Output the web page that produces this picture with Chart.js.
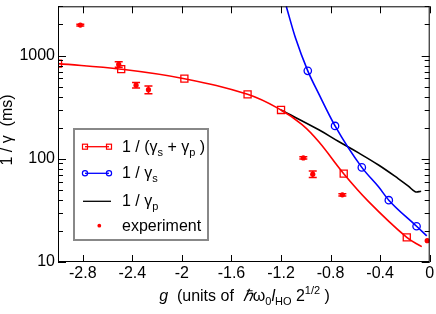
<!DOCTYPE html>
<html>
<head>
<meta charset="utf-8">
<script src="https://cdn.jsdelivr.net/npm/chart.js@4.4.1/dist/chart.umd.min.js"></script>
<style>
  body { margin: 0; background: #fff; }
  #wrap { position: relative; width: 436px; height: 314px; font-family: "Liberation Sans", Arial, sans-serif; color: #000; }
  #chart { position: absolute; left: 0; top: 0; }
  .txt { position: absolute; font-size: 16px; line-height: 20px; white-space: nowrap; }
  .sub { font-size: 11px; position: relative; top: 4px; }
  .sup { font-size: 11px; position: relative; top: -7px; }
  #ytitle { position: absolute; left: 7px; top: 130px; width: 120px; text-align: center; font-size: 16px; line-height: 16px;
            transform: translate(-50%, -50%) rotate(-90deg); white-space: nowrap; }
  #xtitle { position: absolute; left: 0; top: 286px; width: 489px; text-align: center; font-size: 16px; line-height: 20px; white-space: nowrap; }
  #legend { position: absolute; left: 73px; top: 128px; width: 136px; height: 113px; box-sizing: border-box; border: 2px solid #888; }
  #legsvg { position: absolute; left: 0; top: 0; }
</style>
</head>
<body>
<div id="wrap">
  <canvas id="chart" width="436" height="314"></canvas>
  <div id="ytitle">1 / γ &nbsp;(ms)</div>
  <div id="xtitle"><i>g</i>&nbsp; (units of &nbsp;<i>ℏ</i>ω<span class="sub">0</span><i>l</i><span class="sub">HO</span> 2<span class="sup">1/2</span> )</div>
  <div id="legend"></div>
  <svg id="legsvg" width="436" height="314">
    <line x1="85" y1="146.7" x2="109" y2="146.7" stroke="#f00" stroke-width="1.3"/>
    <rect x="82.5" y="144.2" width="5" height="5" fill="none" stroke="#f00" stroke-width="1.2"/>
    <rect x="106.5" y="144.2" width="5" height="5" fill="none" stroke="#f00" stroke-width="1.2"/>
    <line x1="85" y1="173.3" x2="109" y2="173.3" stroke="#00f" stroke-width="1.3"/>
    <circle cx="85" cy="173.3" r="2.6" fill="none" stroke="#00f" stroke-width="1.2"/>
    <circle cx="109" cy="173.3" r="2.6" fill="none" stroke="#00f" stroke-width="1.2"/>
    <line x1="83" y1="201.3" x2="111" y2="201.3" stroke="#000" stroke-width="1.3"/>
    <circle cx="99.3" cy="225.7" r="1.9" fill="#f00"/>
  </svg>
  <div class="txt" style="left:122px; top:137px;">1 / (γ<span class="sub">s</span> + γ<span class="sub">p</span> )</div>
  <div class="txt" style="left:122px; top:163px;">1 / γ<span class="sub">s</span></div>
  <div class="txt" style="left:122px; top:191px;">1 / γ<span class="sub">p</span></div>
  <div class="txt" style="left:122px; top:216px;">experiment</div>
</div>
<script>
// axis ticks
const xTicks = [-2.8, -2.4, -2, -1.6, -1.2, -0.8, -0.4, 0];
const yTicks = [10, 100, 1000];
const yMinor = [20, 30, 40, 50, 60, 70, 80, 90, 200, 300, 400, 500, 600, 700, 800, 900, 2000, 3000];

// 1/(gs+gp) : markers and curve
const sumG = [-3.0, -2.49, -1.98, -1.47, -1.2, -0.694, -0.185];
const sumVal = [835, 738, 597, 421, 297, 71.7, 17.3];
const sumCurveG = [-3.0, -2.49, -1.98, -1.47, -1.2, -1.03, -0.895, -0.694, -0.493, -0.185, -0.064];
const sumCurveVal = [835, 738, 597, 421, 297, 214, 146, 71.7, 38.5, 17.3, 14.1];

// 1/gs : markers and curve
const sG = [-0.984, -0.764, -0.548, -0.33, -0.106];
const sVal = [711, 208, 82.5, 39.7, 22.2];
const sCurveG = [-1.158, -1.083, -0.984, -0.896, -0.764, -0.548, -0.413, -0.33, -0.106, -0.024];
const sCurveVal = [3000, 1476, 711, 427, 208, 82.5, 53.5, 39.7, 22.2, 17.9];

// 1/gp : curve only
const pCurveG = [-1.2, -0.895, -0.735, -0.574, -0.413, -0.252, -0.172, -0.117, -0.069];
const pCurveVal = [297, 191, 147, 114, 87, 64, 54.3, 48, 48.5];

// experiment with error bars
const expG = [-2.82, -2.51, -2.37, -2.27, -1.02, -0.944, -0.705, -0.02];
const expV = [1973, 820, 517, 467, 102, 71, 44.7, 16.1];
const expErr = [40, 50, 32, 40, 2.5, 5, 1.2, 0];

const pts = (xs, ys) => xs.map((x, i) => ({ x: x, y: ys[i] }));

// frame, inside ticks and error bars
const framePlugin = {
    id: 'frame',
    afterDatasetsDraw(chart) {
        const ctx = chart.ctx, xs = chart.scales.x, ys = chart.scales.y;
        ctx.save();
        ctx.strokeStyle = '#f00';
        ctx.lineWidth = 1.5;
        expG.forEach((g, i) => {
            if (!expErr[i]) return;
            const px = xs.getPixelForValue(g);
            const y1 = ys.getPixelForValue(expV[i] - expErr[i]);
            const y2 = ys.getPixelForValue(expV[i] + expErr[i]);
            ctx.beginPath();
            ctx.moveTo(px, y1); ctx.lineTo(px, y2);
            ctx.moveTo(px - 4, y1); ctx.lineTo(px + 4, y1);
            ctx.moveTo(px - 4, y2); ctx.lineTo(px + 4, y2);
            ctx.stroke();
        });
        ctx.restore();
    },
    afterDraw(chart) {
        const ctx = chart.ctx, a = chart.chartArea, xs = chart.scales.x, ys = chart.scales.y;
        ctx.save();
        ctx.strokeStyle = '#000';
        ctx.lineWidth = 1;
        ctx.strokeRect(a.left + 0.5, a.top + 0.5, a.right - a.left - 1, a.bottom - a.top - 1);
        ctx.beginPath();
        xTicks.forEach(v => {
            const px = Math.round(xs.getPixelForValue(v)) + 0.5;
            ctx.moveTo(px, a.bottom); ctx.lineTo(px, a.bottom - 7);
            ctx.moveTo(px, a.top); ctx.lineTo(px, a.top + 7);
        });
        const yt = (v, len) => {
            const py = Math.round(ys.getPixelForValue(v)) + 0.5;
            ctx.moveTo(a.left, py); ctx.lineTo(a.left + len, py);
            ctx.moveTo(a.right, py); ctx.lineTo(a.right - len, py);
        };
        yTicks.forEach(v => yt(v, 8));
        yMinor.forEach(v => yt(v, 5));
        ctx.stroke();
        ctx.restore();
    }
};

const noPad = s => { s.paddingTop = 0; s.paddingBottom = 0; s.paddingLeft = 0; s.paddingRight = 0; };

new Chart(document.getElementById('chart'), {
    type: 'scatter',
    data: {
        datasets: [{
            data: pts(expG, expV),
            pointStyle: 'circle', pointRadius: 2.6,
            backgroundColor: '#f00', borderColor: '#f00', borderWidth: 0, showLine: false
        }, {
            data: pts(sumG, sumVal),
            pointStyle: 'rect', pointRadius: 5,
            backgroundColor: 'rgba(0,0,0,0)', borderColor: '#f00', borderWidth: 1.3, showLine: false
        }, {
            data: pts(sG, sVal),
            pointStyle: 'circle', pointRadius: 3.7,
            backgroundColor: 'rgba(0,0,0,0)', borderColor: '#00f', borderWidth: 1.3, showLine: false
        }, {
            data: pts(sumCurveG, sumCurveVal),
            showLine: true, pointRadius: 0, borderColor: '#f00', borderWidth: 1.6,
            tension: 0.4
        }, {
            data: pts(sCurveG, sCurveVal),
            showLine: true, pointRadius: 0, borderColor: '#00f', borderWidth: 1.6,
            cubicInterpolationMode: 'monotone'
        }, {
            data: pts(pCurveG, pCurveVal),
            showLine: true, pointRadius: 0, borderColor: '#000', borderWidth: 1.6,
            tension: 0.4
        }]
    },
    options: {
        responsive: false,
        animation: false,
        devicePixelRatio: 1,
        layout: { padding: { left: 0, right: 5, top: 1, bottom: 0 } },
        plugins: { legend: { display: false }, tooltip: { enabled: false } },
        scales: {
            x: {
                type: 'linear', min: -3, max: 0,
                grid: { display: false, drawTicks: false },
                border: { display: false },
                afterBuildTicks: s => { s.ticks = xTicks.map(v => ({ value: v })); },
                afterFit: s => { s.height = 52; noPad(s); },
                ticks: {
                    autoSkip: false, maxRotation: 0, padding: 2, color: '#000',
                    font: { family: '"Liberation Sans", Arial, sans-serif', size: 16 },
                    callback: v => String(v)
                }
            },
            y: {
                type: 'logarithmic', min: 10, max: 3000,
                grid: { display: false, drawTicks: false },
                border: { display: false },
                afterBuildTicks: s => { s.ticks = yTicks.map(v => ({ value: v })); },
                afterFit: s => { s.width = 58; noPad(s); },
                ticks: {
                    autoSkip: false, padding: 3, color: '#000',
                    font: { family: '"Liberation Sans", Arial, sans-serif', size: 16 },
                    callback: v => String(v)
                }
            }
        }
    },
    plugins: [framePlugin]
});
</script>
</body>
</html>
